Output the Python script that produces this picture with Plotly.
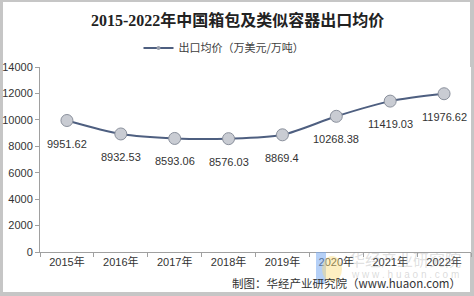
import plotly.graph_objects as go

years = ["2015年", "2016年", "2017年", "2018年", "2019年", "2020年", "2021年", "2022年"]
prices = [9951.62, 8932.53, 8593.06, 8576.03, 8869.4, 10268.38, 11419.03, 11976.62]
price_labels = ["9951.62", "8932.53", "8593.06", "8576.03", "8869.4", "10268.38", "11419.03", "11976.62"]
y_ticks = [0, 2000, 4000, 6000, 8000, 10000, 12000, 14000]

W, H = 474, 296
L, R, T, B = 40, 3, 67, 44
pw, ph = W - L - R, H - T - B

def px(x):
    return (x - L) / pw

def py(y):
    return (H - B - y) / ph

fig = go.Figure()
fig.add_trace(go.Scatter(
    x=years, y=prices, mode="lines+markers",
    name="出口均价（万美元/万吨）", showlegend=False,
    line=dict(color="#4e5f80", width=2, shape="spline", smoothing=0.8),
    marker=dict(size=12, color="#c9ccd3", line=dict(color="#8a909c", width=1), symbol="circle"),
))
# legend entry (small marker as in reference)
fig.add_trace(go.Scatter(
    x=[None], y=[None], mode="lines+markers",
    name="出口均价（万美元/万吨）", showlegend=True,
    line=dict(color="#4e5f80", width=2),
    marker=dict(size=4, color="#9aa0ad", symbol="circle"),
))

for x, y, t in zip(years, prices, price_labels):
    fig.add_annotation(x=x, y=y, text=t, showarrow=False, yshift=-23,
                       font=dict(family="Arial, Liberation Sans", size=11, color="#333333"))

# frame
fig.add_shape(type="rect", xref="paper", yref="paper",
              x0=px(3), x1=px(470), y0=py(292), y1=py(2),
              fillcolor="white", line=dict(width=0), layer="below")

fig.add_annotation(xref="paper", yref="paper", x=px(237), y=py(20),
                   text="<b>2015-2022年中国箱包及类似容器出口均价</b>", showarrow=False,
                   font=dict(family="Liberation Serif, Noto Sans CJK SC", size=16, color="#222222"),
                   xanchor="center", yanchor="middle")

# watermark
fig.add_annotation(xref="paper", yref="paper", x=px(405), y=py(259),
                   text="华经产业研究院", showarrow=False,
                   font=dict(family="Noto Sans CJK SC", size=16, color="rgba(150,150,150,0.3)"),
                   xanchor="center", yanchor="middle")
fig.add_annotation(xref="paper", yref="paper", x=px(405), y=py(274),
                   text="w w w . h u a o n . c o m", showarrow=False,
                   font=dict(family="Arial", size=10, color="rgba(150,150,150,0.35)"),
                   xanchor="center", yanchor="middle")
fig.add_shape(type="rect", xref="paper", yref="paper",
              x0=px(316), x1=px(326), y0=py(284), y1=py(252),
              fillcolor="rgba(120,170,240,0.55)", line=dict(width=0))
fig.add_shape(type="circle", xref="paper", yref="paper",
              x0=px(322), x1=px(342), y0=py(282), y1=py(256),
              fillcolor="rgba(250,220,120,0.45)", line=dict(width=0))

fig.add_annotation(xref="paper", yref="paper", x=px(463), y=py(283),
                   text="制图：华经产业研究院（www.huaon.com）", showarrow=False,
                   font=dict(family="Noto Sans CJK SC", size=11.5, color="#333333"),
                   xanchor="right", yanchor="middle")

fig.update_layout(
    width=W, height=H,
    margin=dict(l=L, r=R, t=T, b=B),
    paper_bgcolor="#c6c6c6", plot_bgcolor="white",
    showlegend=True,
    legend=dict(orientation="h", x=px(224), xanchor="center", y=py(48), yanchor="middle",
                font=dict(family="Noto Sans CJK SC", size=11, color="#404040"),
                bgcolor="rgba(0,0,0,0)", itemwidth=30),
    xaxis=dict(type="category", tickson="boundaries", ticks="outside", ticklen=4,
               tickcolor="#a0a0a0", showline=True, linecolor="#a0a0a0", linewidth=1,
               showgrid=False, tickfont=dict(family="Arial, Noto Sans CJK SC", size=11, color="#333333"),
               range=[-0.5, 7.5], fixedrange=True),
    yaxis=dict(range=[0, 14000], tickvals=y_ticks, tickformat="d", ticks="outside", ticklen=4,
               tickcolor="#a0a0a0", showline=True, linecolor="#a0a0a0", linewidth=1,
               showgrid=False, zeroline=False,
               tickfont=dict(family="Arial", size=11, color="#333333")),
)

fig.write_html("out.html")
